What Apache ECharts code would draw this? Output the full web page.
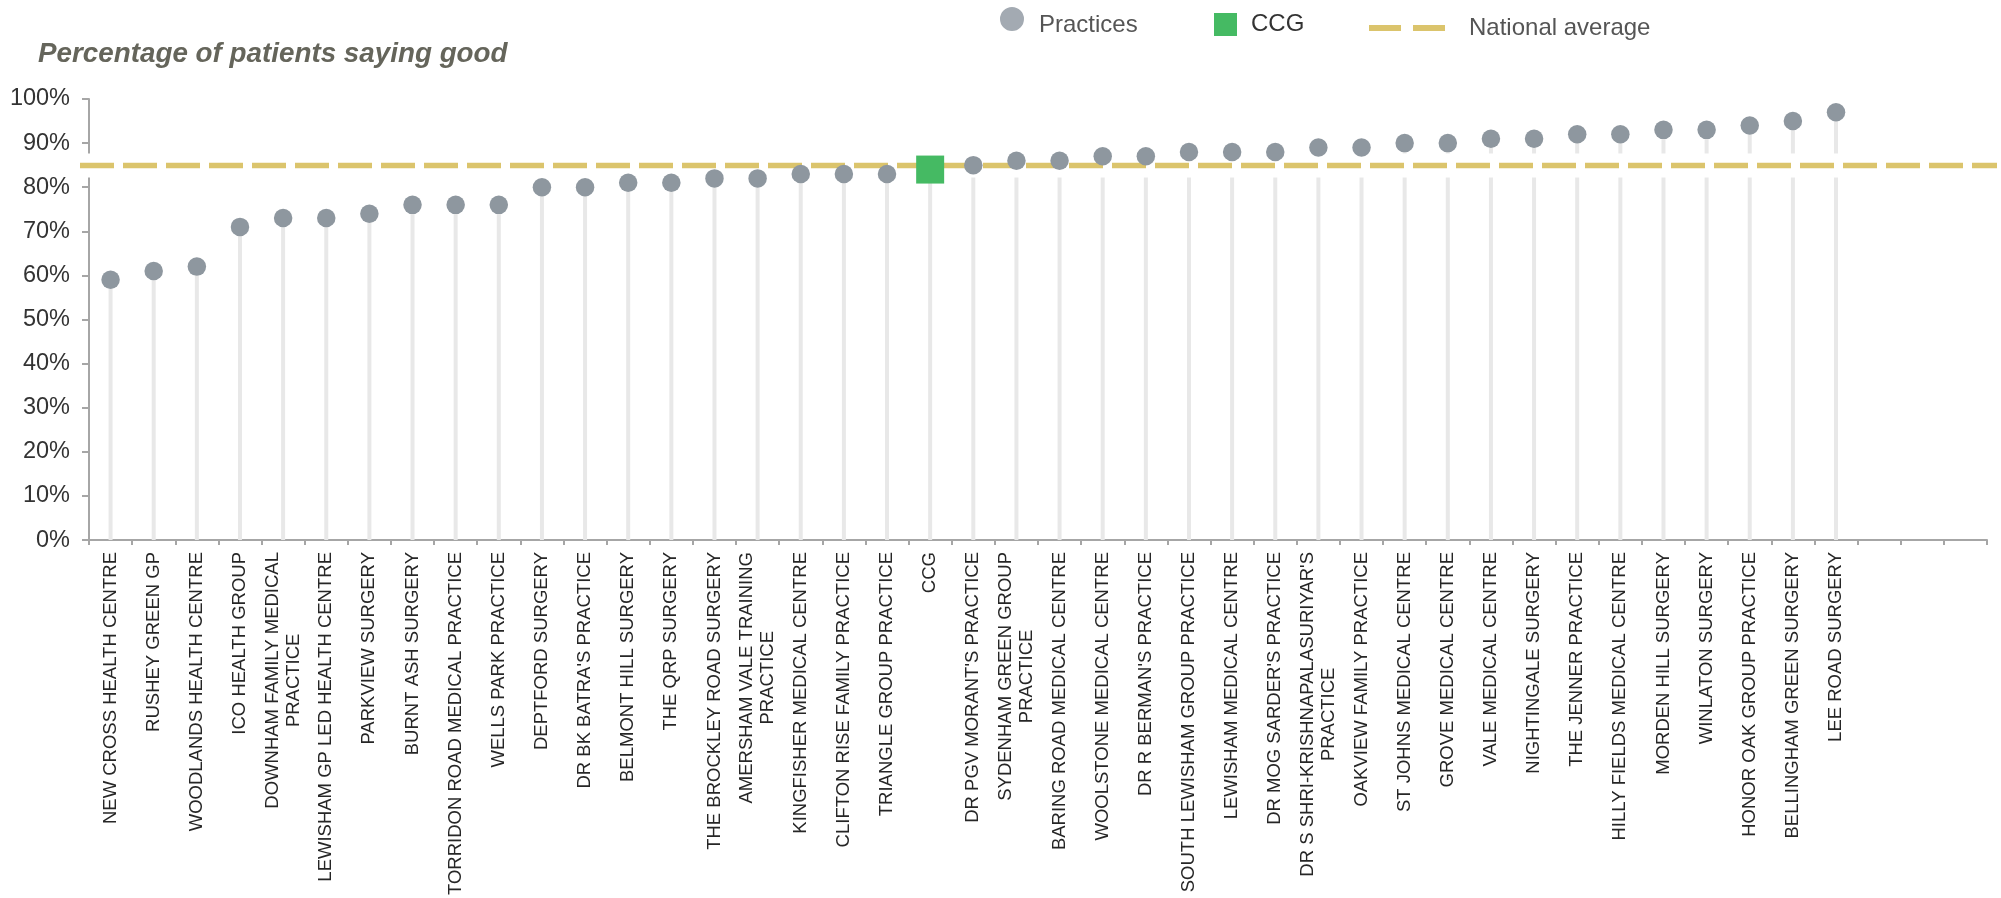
<!DOCTYPE html>
<html>
<head>
<meta charset="utf-8">
<script src="https://cdn.jsdelivr.net/npm/echarts@6/dist/echarts.min.js"></script>
<style>
html,body{margin:0;padding:0;background:#fff;}
#chart{width:2001px;height:898px;}
</style>
</head>
<body>
<div id="chart"></div>
<script>
const titleText = 'Percentage of patients saying good';
const categories = [
  'NEW CROSS HEALTH CENTRE', 'RUSHEY GREEN GP', 'WOODLANDS HEALTH CENTRE', 'ICO HEALTH GROUP',
  'DOWNHAM FAMILY MEDICAL\nPRACTICE', 'LEWISHAM GP LED HEALTH CENTRE', 'PARKVIEW SURGERY',
  'BURNT ASH SURGERY', 'TORRIDON ROAD MEDICAL PRACTICE', 'WELLS PARK PRACTICE', 'DEPTFORD SURGERY',
  "DR BK BATRA'S PRACTICE", 'BELMONT HILL SURGERY', 'THE QRP SURGERY', 'THE BROCKLEY ROAD SURGERY',
  'AMERSHAM VALE TRAINING\nPRACTICE', 'KINGFISHER MEDICAL CENTRE', 'CLIFTON RISE FAMILY PRACTICE',
  'TRIANGLE GROUP PRACTICE', 'CCG', "DR PGV MORANT'S PRACTICE", 'SYDENHAM GREEN GROUP\nPRACTICE',
  'BARING ROAD MEDICAL CENTRE', 'WOOLSTONE MEDICAL CENTRE', "DR R BERMAN'S PRACTICE",
  'SOUTH LEWISHAM GROUP PRACTICE', 'LEWISHAM MEDICAL CENTRE', "DR MOG SARDER'S PRACTICE",
  "DR S SHRI-KRISHNAPALASURIYAR'S\nPRACTICE", 'OAKVIEW FAMILY PRACTICE', 'ST JOHNS MEDICAL CENTRE',
  'GROVE MEDICAL CENTRE', 'VALE MEDICAL CENTRE', 'NIGHTINGALE SURGERY', 'THE JENNER PRACTICE',
  'HILLY FIELDS MEDICAL CENTRE', 'MORDEN HILL SURGERY', 'WINLATON SURGERY', 'HONOR OAK GROUP PRACTICE',
  'BELLINGHAM GREEN SURGERY', 'LEE ROAD SURGERY', '', ' ', '  '
];
const values = [
  59, 61, 62, 71, 73, 73, 74, 76, 76, 76, 80, 80, 81, 81, 82, 82, 83, 83, 83, 84,
  85, 86, 86, 87, 87, 88, 88, 88, 89, 89, 90, 90, 91, 91, 92, 92, 93, 93, 94, 95, 97,
  null, null, null
];
const ccgName = 'CCG';
const nationalAverage = 85;
const yTicks = { min: 0, max: 100, interval: 10 };

const practiceData = values.map((v, i) => categories[i] === ccgName ? null : v);
const ccgData = values.map((v, i) => categories[i] === ccgName ? v : null);

const chart = echarts.init(document.getElementById('chart'), null, { renderer: 'canvas' });
const FONT = 'Liberation Sans, Arial, sans-serif';
const labelFont = { fontFamily: FONT, fontSize: 18.5, color: '#262626', lineHeight: 21 };

chart.setOption({
  animation: false,
  backgroundColor: '#ffffff',
  title: {
    text: titleText,
    left: 38, top: 40, padding: 0,
    textStyle: { fontFamily: FONT, fontSize: 27.8, fontWeight: 'bold', fontStyle: 'italic', color: '#65655b' }
  },
  legend: [
    {
      data: [{ name: 'Practices', icon: 'path://M12,0A12,12,0,1,1,12,24A12,12,0,1,1,12,0ZM0,36L24,36', itemStyle: { color: '#a3aab2', borderWidth: 0, opacity: 1 } }],
      left: 1000, top: 7, itemWidth: 24, itemHeight: 36, padding: 0,
      selectedMode: false,
      textStyle: { fontFamily: FONT, fontSize: 24, color: '#555555', padding: [0, 0, 0, 10] }
    },
    {
      data: [{ name: 'CCG', icon: 'rect', itemStyle: { color: '#45ba63', opacity: 1 } }],
      left: 1214, top: 12.5, itemWidth: 23, itemHeight: 23, padding: 0,
      selectedMode: false,
      textStyle: { fontFamily: FONT, fontSize: 24, color: '#333333', padding: [2, 0, 0, 9] }
    },
    {
      data: [{ name: 'National average', icon: 'path://M0,0H32V6H0ZM44,0H76V6H44Z', itemStyle: { color: '#dbc46c', borderWidth: 0, opacity: 1 } }],
      left: 1369, top: 16, itemWidth: 76, itemHeight: 14, padding: 0,
      selectedMode: false,
      textStyle: { fontFamily: FONT, fontSize: 24, color: '#555555', padding: [4, 0, 0, 19] }
    }
  ],
  grid: [
    { left: 89, right: 14, top: 99, bottom: 356, containLabel: false },
    { left: 80, right: 4, top: 99, bottom: 356, containLabel: false }
  ],
  xAxis: [
    {
      type: 'category', gridIndex: 0, data: categories, boundaryGap: true,
      axisLine: { show: true, lineStyle: { color: '#a6a6a6', width: 2 } },
      axisTick: { show: true, length: 5, alignWithLabel: false, lineStyle: { color: '#a6a6a6', width: 2 } },
      axisLabel: {
        interval: 0, rotate: 90, margin: 12, ...labelFont,
        formatter: function (val) {
          const parts = val.split('\n');
          if (parts.length === 1) return '{a|' + val + '}';
          return '{a|' + parts[0] + '}\n{b|' + parts[1] + '}';
        },
        rich: {
          a: { ...labelFont },
          b: { ...labelFont, align: 'center' }
        }
      },
      splitLine: { show: false }
    },
    { type: 'value', gridIndex: 1, min: 0, max: 1, show: false }
  ],
  yAxis: [
    {
      type: 'value', gridIndex: 0, min: yTicks.min, max: yTicks.max, interval: yTicks.interval,
      axisLine: { show: true, lineStyle: { color: '#a6a6a6', width: 2 } },
      axisTick: { show: true, length: 7, lineStyle: { color: '#a6a6a6', width: 2 } },
      axisLabel: { margin: 19, fontFamily: FONT, fontSize: 23.5, color: '#333333', formatter: '{value}%' },
      splitLine: { show: false }
    },
    { type: 'value', gridIndex: 1, min: yTicks.min, max: yTicks.max, show: false }
  ],
  series: [
    {
      name: 'stems', type: 'bar', xAxisIndex: 0, yAxisIndex: 0,
      data: values, barWidth: 4, silent: true, z: 1,
      itemStyle: { color: '#e8e8e8' }
    },
    {
      name: 'band', type: 'line', xAxisIndex: 1, yAxisIndex: 1,
      data: [[0, nationalAverage], [1, nationalAverage]], symbol: 'none', silent: true, z: 3,
      lineStyle: { color: '#ffffff', width: 24 }
    },
    {
      name: 'National average', type: 'line', xAxisIndex: 1, yAxisIndex: 1,
      data: [[0, nationalAverage], [1, nationalAverage]], symbol: 'none', silent: true, z: 4,
      itemStyle: { color: '#dbc46c' },
      lineStyle: { color: '#dbc46c', width: 5.5, type: [34, 9] }
    },
    {
      name: 'Practices', type: 'scatter', xAxisIndex: 0, yAxisIndex: 0,
      data: practiceData, symbol: 'circle', symbolSize: 18.5, z: 5,
      itemStyle: { color: '#8e979f', opacity: 1 }
    },
    {
      name: 'CCG', type: 'scatter', xAxisIndex: 0, yAxisIndex: 0,
      data: ccgData, symbol: 'rect', symbolSize: 28, z: 6,
      itemStyle: { color: '#45ba63', opacity: 1 }
    }
  ]
});
</script>
</body>
</html>
